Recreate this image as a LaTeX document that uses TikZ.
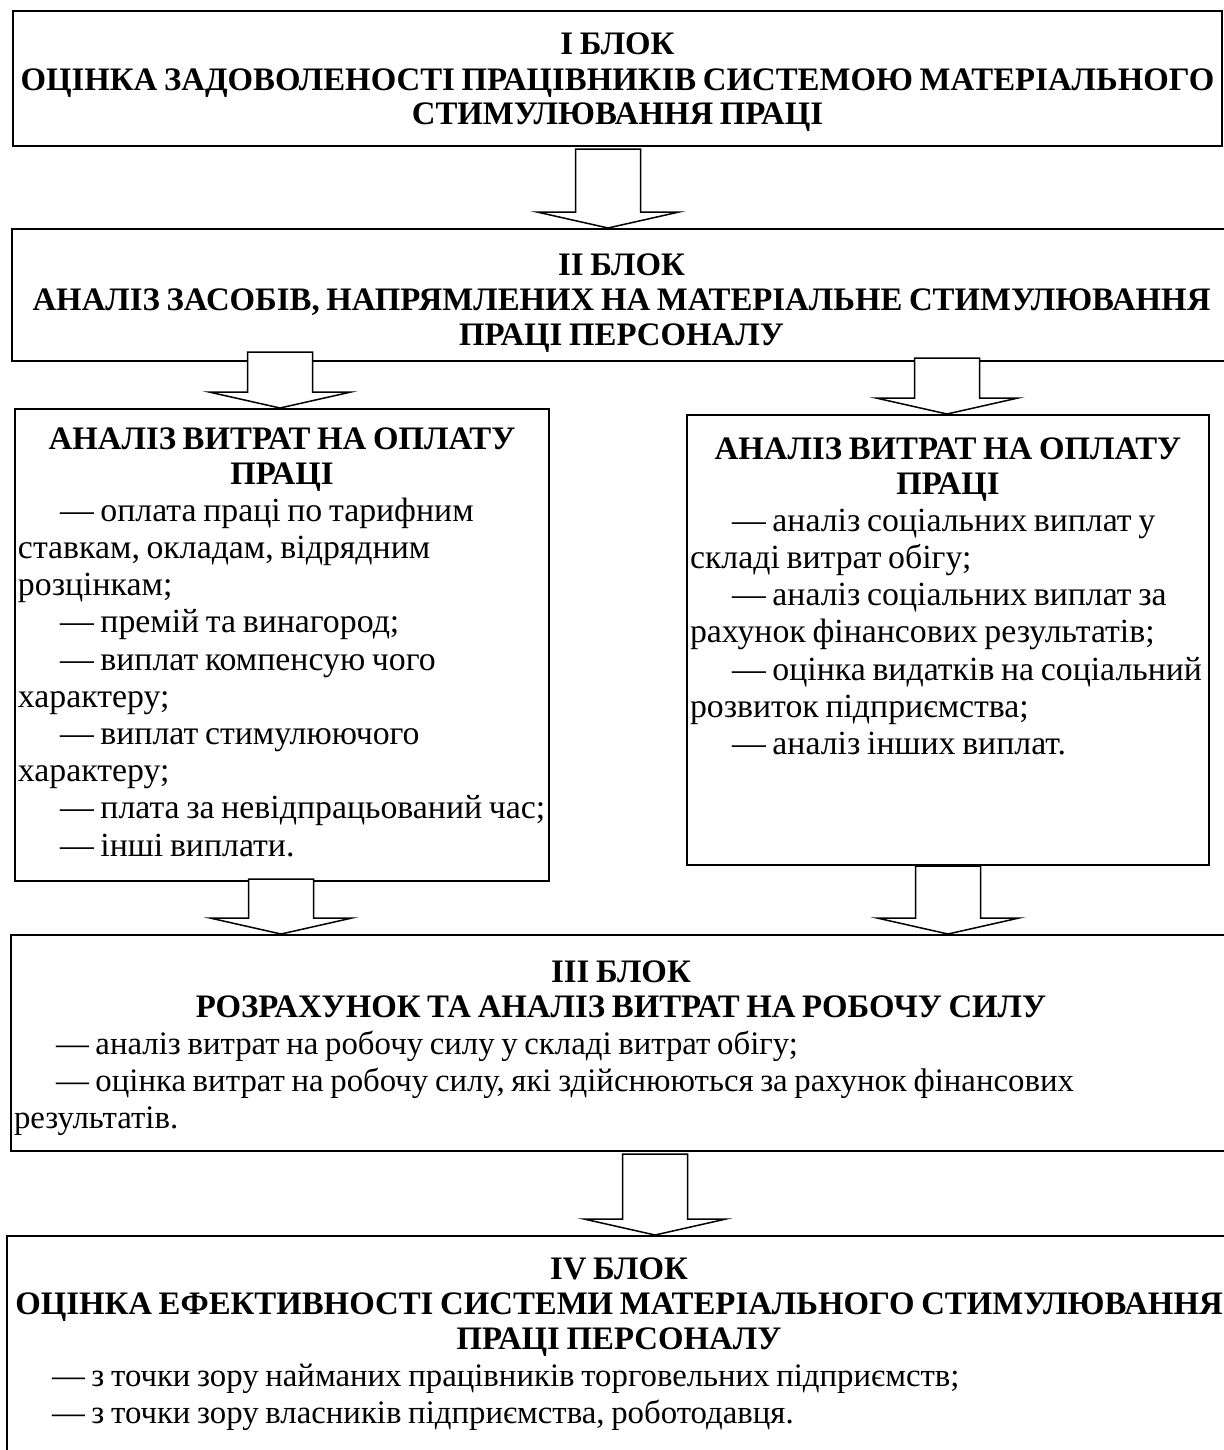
\documentclass[tikz,border=0pt]{standalone}
\usepackage{fontspec}
\setmainfont{Liberation Serif}
\usetikzlibrary{calc}

\newcommand{\hd}{\fontsize{16.4}{17.5}\selectfont\bfseries\centering}
\newcommand{\bd}{\fontsize{16.4}{18.5}\selectfont\mdseries\raggedright
  \rightskip=-15pt plus 1fil}
\newcommand{\bdsm}{\fontsize{16.9}{18.6}\selectfont\mdseries\raggedright
  \rightskip=-15pt plus 1fil}
\newcommand{\ind}{\hspace*{21pt}}

% block arrow: centre x, top y, target node
\newcommand{\blkarrow}[3]{%
  \coordinate (tip) at (#1,0 |- #3.north);
  \draw[blk] ({#1-32.5},#2) -- ({#1+32.5},#2) -- ($(tip)+(32.5,-16)$)
    -- ($(tip)+(71,-16)$) -- (tip) -- ($(tip)+(-71,-16)$)
    -- ($(tip)+(-32.5,-16)$) -- cycle;}

\begin{document}
\begin{tikzpicture}[x=0.5pt, y=-0.5pt,
    blok/.style={draw, line width=1pt, fill=white, anchor=north west,
      inner xsep=1.5pt, text height=0pt},
    blk/.style={draw, line width=0.75pt, fill=white, line join=miter}]
  \clip (0,0) rectangle (1224,1450);

  \node[blok, text width=601.5pt, inner ysep=22pt, text depth=23.5pt]
    (b1) at (12,10) {{\hd І БЛОК\\
      ОЦІНКА ЗАДОВОЛЕНОСТІ ПРАЦІВНИКІВ СИСТЕМОЮ МАТЕРІАЛЬНОГО\\
      СТИМУЛЮВАННЯ ПРАЦІ\par}};

  \node[blok, text width=606.5pt, inner ysep=23pt, text depth=20pt]
    (b2) at (11,228) {{\hd ІІ БЛОК\\
      АНАЛІЗ ЗАСОБІВ, НАПРЯМЛЕНИХ НА МАТЕРІАЛЬНЕ СТИМУЛЮВАННЯ\\
      ПРАЦІ ПЕРСОНАЛУ\par}};

  \node[blok, text width=264pt, inner ysep=20pt, text depth=196pt]
    (oplata) at (14,408) {{\hd АНАЛІЗ ВИТРАТ НА ОПЛАТУ\\ ПРАЦІ\par}
      {\bdsm\ind— оплата праці по тарифним\\
      ставкам, окладам, відрядним\\
      розцінкам;\\
      \ind— премій та винагород;\\
      \ind— виплат компенсую чого\\
      характеру;\\
      \ind— виплат стимулюючого\\
      характеру;\\
      \ind— плата за невідпрацьований час;\\
      \ind— інші виплати.\par}};

  \node[blok, text width=258pt, inner ysep=22pt, text depth=181pt]
    (social) at (686,414) {{\hd АНАЛІЗ ВИТРАТ НА ОПЛАТУ\\ ПРАЦІ\par}
      {\bdsm\ind— аналіз соціальних виплат у\\
      складі витрат обігу;\\
      \ind— аналіз соціальних виплат за\\
      рахунок фінансових результатів;\\
      \ind— оцінка видатків на соціальний\\
      розвиток підприємства;\\
      \ind— аналіз інших виплат.\par}};

  \node[blok, text width=607pt, inner ysep=23.5pt, text depth=61pt]
    (b3) at (10,934) {{\hd ІІІ БЛОК\\
      РОЗРАХУНОК ТА АНАЛІЗ ВИТРАТ НА РОБОЧУ СИЛУ\par}
      {\bd\ind— аналіз витрат на робочу силу у складі витрат обігу;\\
      \ind— оцінка витрат на робочу силу, які здійснюються за рахунок фінансових\\
      результатів.\par}};

  \node[blok, text width=609pt, inner ysep=21.5pt, text depth=69.5pt]
    (b4) at (6,1235) {{\hd IV БЛОК\\
      ОЦІНКА ЕФЕКТИВНОСТІ СИСТЕМИ МАТЕРІАЛЬНОГО СТИМУЛЮВАННЯ\\
      ПРАЦІ ПЕРСОНАЛУ\par}
      {\bd\ind— з точки зору найманих працівників торговельних підприємств;\\
      \ind— з точки зору власників підприємства, роботодавця.\par}};

  \blkarrow{608}{149}{b2}
  \blkarrow{280}{352}{oplata}
  \blkarrow{947}{358}{social}
  \blkarrow{281}{879}{b3}
  \blkarrow{948}{866}{b3}
  \blkarrow{655}{1154}{b4}
\end{tikzpicture}
\end{document}
